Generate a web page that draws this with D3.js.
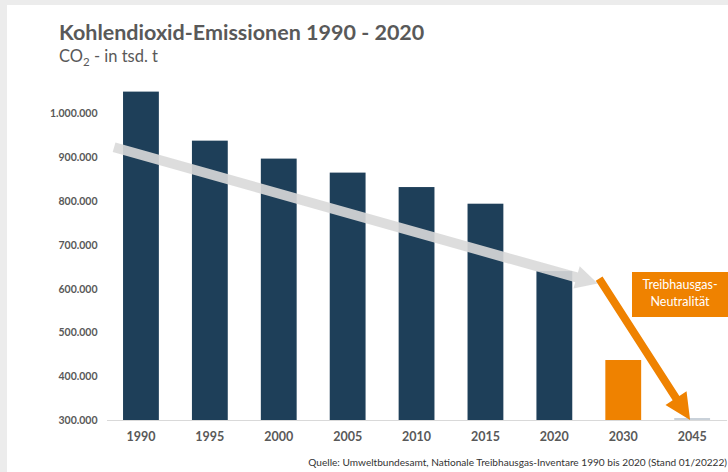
<!DOCTYPE html>
<html>
<head>
<meta charset="utf-8">
<script src="https://cdn.jsdelivr.net/npm/d3@7"></script>
<style>
  body { margin: 0; background: #ececec; }
  svg { display: block; font-family: Lato, "Open Sans", sans-serif; }
</style>
</head>
<body>
<div id="chart"></div>
<script>
// chart values
const years = ["1990", "1995", "2000", "2005", "2010", "2015", "2020", "2030", "2045"];
const emissions = [1050000, 938000, 897000, 865000, 832000, 794000, 640000, 437000, 0];
const barColors = ["#1e3f59", "#1e3f59", "#1e3f59", "#1e3f59", "#1e3f59", "#1e3f59", "#1e3f59", "#ef8200", "#c9d1d9"];
const yTicks = [300000, 400000, 500000, 600000, 700000, 800000, 900000, 1000000];
// arrows as [category index, value] pairs
const trendArrow = [[-0.39, 923000], [6.63, 612000]];
const targetArrow = [[6.65, 623000], [7.97, 300000]];

const W = 728, H = 472;
const margin = { top: 113.5, right: 1.5, bottom: 52, left: 106.5 },
  width = W - margin.left - margin.right,
  height = H - margin.top - margin.bottom;

const de = d3.formatLocale({ decimal: ",", thousands: ".", grouping: [3], currency: ["", " €"] });
const fmt = de.format(",.0f");

const svg = d3.select("#chart").append("svg")
  .attr("width", W)
  .attr("height", H);

// slide panel
svg.append("rect").attr("x", 0).attr("y", 0).attr("width", W).attr("height", H).attr("fill", "#ececec");
svg.append("rect").attr("x", 7).attr("y", 5).attr("width", W - 7).attr("height", H - 5).attr("fill", "#fff");

svg.append("text")
  .attr("x", 59).attr("y", 40)
  .attr("font-size", 21.5).attr("font-weight", "bold").attr("fill", "#595959")
  .text("Kohlendioxid-Emissionen 1990 - 2020");

const sub = svg.append("text")
  .attr("x", 59).attr("y", 61.5)
  .attr("font-size", 16.5).attr("fill", "#595959");
sub.append("tspan").text("CO");
sub.append("tspan").attr("font-size", 11.5).attr("dy", 4).text("2");
sub.append("tspan").attr("dy", -4).text(" - in tsd. t");

const g = svg.append("g")
  .attr("transform", "translate(" + margin.left + "," + margin.top + ")");

const x = d3.scaleBand()
  .domain(years)
  .range([0, width + 0.1])
  .paddingInner(0.48)
  .paddingOuter(0.24);

const y = d3.scaleLinear()
  .domain([300000, 1000000])
  .range([height, 0]);

const xi = d3.scaleLinear()
  .domain([0, years.length - 1])
  .range([x(years[0]) + x.bandwidth() / 2, x(years[years.length - 1]) + x.bandwidth() / 2]);

// y labels only
const yAxis = d3.axisLeft(y).tickValues(yTicks).tickSize(0).tickPadding(9).tickFormat(fmt);
g.append("g").attr("class", "y axis")
  .call(yAxis)
  .call(s => s.select(".domain").remove())
  .selectAll("text")
  .attr("font-family", "Lato, sans-serif")
  .attr("font-size", 10.5).attr("font-weight", "bold").attr("fill", "#595959");

// bars
g.selectAll(".bar")
  .data(years)
  .enter().append("rect")
  .attr("class", "bar")
  .attr("x", d => x(d))
  .attr("width", x.bandwidth())
  .attr("y", (d, i) => Math.min(y(Math.max(emissions[i], 300000)), height - 2))
  .attr("height", (d, i) => Math.max(height - y(Math.max(emissions[i], 300000)), 2))
  .attr("fill", (d, i) => barColors[i]);

// x axis
const xAxis = d3.axisBottom(x).tickSize(0).tickPadding(12);
g.append("g").attr("class", "x axis")
  .attr("transform", "translate(0," + height + ")")
  .call(xAxis)
  .call(s => s.select(".domain").attr("stroke", "#d9d9d9").attr("stroke-width", 1.2))
  .selectAll("text")
  .attr("font-family", "Lato, sans-serif")
  .attr("font-size", 12.5).attr("font-weight", "bold").attr("fill", "#595959");

function arrowPath(pts, shaft, headLen, headHalf) {
  const x0 = xi(pts[0][0]), y0 = y(pts[0][1]);
  const x1 = xi(pts[1][0]), y1 = y(pts[1][1]);
  const len = Math.hypot(x1 - x0, y1 - y0);
  const ux = (x1 - x0) / len, uy = (y1 - y0) / len;
  const px = -uy, py = ux;
  const bx = x1 - ux * headLen, by = y1 - uy * headLen;
  const p = [
    [x0 + px * shaft, y0 + py * shaft],
    [bx + px * shaft, by + py * shaft],
    [bx + px * headHalf, by + py * headHalf],
    [x1, y1],
    [bx - px * headHalf, by - py * headHalf],
    [bx - px * shaft, by - py * shaft],
    [x0 - px * shaft, y0 - py * shaft]
  ];
  return "M" + p.map(q => q.join(",")).join("L") + "Z";
}

g.append("path")
  .attr("d", arrowPath(trendArrow, 5, 22, 11.5))
  .attr("fill", "#d9d9d9").attr("fill-opacity", 0.9);

g.append("path")
  .attr("d", arrowPath(targetArrow, 4, 26, 12.5))
  .attr("fill", "#ef8200");

// callout box
svg.append("rect")
  .attr("x", 632).attr("y", 272).attr("width", 97).attr("height", 45)
  .attr("fill", "#ef8200");
svg.append("text")
  .attr("x", 680).attr("y", 288.5).attr("text-anchor", "middle")
  .attr("font-size", 12.5).attr("fill", "#fff")
  .text("Treibhausgas-");
svg.append("text")
  .attr("x", 680).attr("y", 305.5).attr("text-anchor", "middle")
  .attr("font-size", 12.5).attr("fill", "#fff")
  .text("Neutralität");

svg.append("text")
  .attr("x", 727).attr("y", 465.5).attr("text-anchor", "end")
  .attr("font-size", 10.1).attr("fill", "#333")
  .text("Quelle: Umweltbundesamt, Nationale Treibhausgas-Inventare 1990 bis 2020 (Stand 01/20222)");
</script>
</body>
</html>
